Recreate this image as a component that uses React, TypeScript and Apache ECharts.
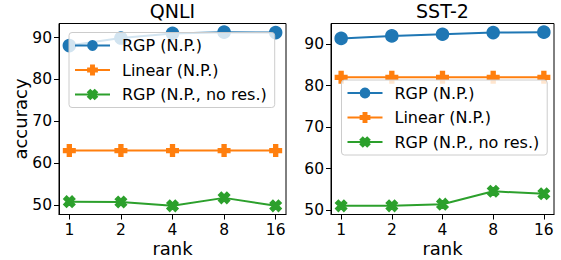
import React, { useEffect, useRef } from "react";
import * as echarts from "echarts";

const ranks = ["1", "2", "4", "8", "16"];
const seriesNames = ["RGP (N.P.)", "Linear (N.P.)", "RGP (N.P., no res.)"];
const panelTitles = ["QNLI", "SST-2"];

const qnliRGP = [88.1, 89.9, 91.0, 91.3, 91.2];
const qnliLinear = [63.0, 63.0, 63.0, 63.0, 63.0];
const qnliNoRes = [50.8, 50.7, 49.8, 51.7, 49.8];

const sstRGP = [91.4, 92.0, 92.4, 92.8, 92.9];
const sstLinear = [82.0, 82.0, 82.0, 82.0, 82.0];
const sstNoRes = [51.0, 51.0, 51.4, 54.5, 53.9];

const yTicks = [50, 60, 70, 80, 90];

const FONT = "DejaVu Sans";
const colors = ["#1f77b4", "#ff7f0e", "#2ca02c"];
const symbols = [
  "circle",
  "path://M-1,-3L1,-3L1,-1L3,-1L3,1L1,1L1,3L-1,3L-1,1L-3,1L-3,-1L-1,-1Z",
  "path://M-1,-2L0,-1L1,-2L2,-1L1,0L2,1L1,2L0,1L-1,2L-2,1L-1,0L-2,-1Z",
];
const symbolSizes = [12, 11.5, 11];

function paddedRange(arrs: number[][]) {
  const all = arrs.flat();
  const lo = Math.min(...all);
  const hi = Math.max(...all);
  const m = (hi - lo) * 0.05;
  return [lo - m, hi + m];
}

export default function App() {
  const ref = useRef<HTMLDivElement>(null);
  useEffect(() => {
    if (!ref.current) return;
    const chart = echarts.init(ref.current, undefined, { renderer: "svg" });
    const panels = [
      { data: [qnliRGP, qnliLinear, qnliNoRes], grid: { left: 59, top: 23.5, width: 227, height: 191 }, legend: { left: 69, top: 32.5 } },
      { data: [sstRGP, sstLinear, sstNoRes], grid: { left: 331, top: 23.5, width: 223, height: 191 }, legend: { left: 341.5, top: 80 } },
    ];
    const grids: any[] = [];
    const xAxes: any[] = [];
    const yAxes: any[] = [];
    const series: any[] = [];
    const legends: any[] = [];
    const titles: any[] = [];
    panels.forEach((p, pi) => {
      grids.push({
        ...p.grid,
        show: true,
        borderColor: "#000",
        borderWidth: 1,
        backgroundColor: "transparent",
        containLabel: false,
        outerBoundsMode: "none",
      });
      const [ymin, ymax] = paddedRange(p.data);
      xAxes.push({
        type: "value",
        gridIndex: pi,
        min: -0.2,
        max: 4.2,
        name: "rank",
        nameLocation: "middle",
        nameGap: 25,
        nameMoveOverlap: false,
        nameTextStyle: { fontFamily: FONT, fontSize: 18, lineHeight: 18, color: "#000" },
        axisLine: { onZero: false, lineStyle: { color: "#000", width: 1 } },
        axisTick: { show: true, length: 5, customValues: [0, 1, 2, 3, 4], lineStyle: { color: "#000" } },
        axisLabel: {
          customValues: [0, 1, 2, 3, 4],
          formatter: (v: number) => ranks[Math.round(v)],
          fontFamily: FONT,
          fontSize: 15.5,
          color: "#000",
          margin: 7,
        },
        splitLine: { show: false },
      });
      yAxes.push({
        type: "value",
        gridIndex: pi,
        min: ymin,
        max: ymax,
        name: pi === 0 ? "accuracy" : "",
        nameLocation: "middle",
        nameGap: 30,
        nameMoveOverlap: false,
        nameRotate: 90,
        nameTextStyle: { fontFamily: FONT, fontSize: 18, color: "#000" },
        axisLine: { show: true, onZero: false, lineStyle: { color: "#000", width: 1 } },
        axisTick: { show: true, length: 5, customValues: yTicks, lineStyle: { color: "#000" } },
        axisLabel: {
          customValues: yTicks,
          formatter: (v: number) => String(Math.round(v)),
          fontFamily: FONT,
          fontSize: 15.5,
          color: "#000",
          margin: 7,
        },
        splitLine: { show: false },
      });
      p.data.forEach((vals, si) => {
        series.push({
          type: "line",
          name: seriesNames[si],
          xAxisIndex: pi,
          yAxisIndex: pi,
          data: vals.map((v, i) => [i, v]),
          symbol: symbols[si],
          symbolSize: symbolSizes[si],
          showSymbol: true,
          color: colors[si],
          lineStyle: { width: 2, color: colors[si] },
          itemStyle: { color: colors[si], borderColor: colors[si], borderWidth: 1.5 },
          z: 2 + si,
        });
      });
      legends.push({
        orient: "vertical",
        left: p.legend.left,
        top: p.legend.top,
        data: seriesNames,
        itemWidth: 35,
        itemHeight: 11,
        itemGap: 4.5,
        padding: [3, 8, 3, 5],
        backgroundColor: "rgba(255,255,255,0.8)",
        borderColor: "#cccccc",
        borderWidth: 1,
        borderRadius: 3,
        selectedMode: false,
        textStyle: { fontFamily: FONT, fontSize: 16, color: "#000", lineHeight: 20, padding: [0, 0, 0, 7] },
        z: 10,
      });
      titles.push({
        text: panelTitles[pi],
        left: p.grid.left + p.grid.width / 2,
        top: 1.5,
        textAlign: "center",
        padding: 0,
        textStyle: { fontFamily: FONT, fontSize: 19, fontWeight: "normal", color: "#000" },
      });
    });
    chart.setOption({
      animation: false,
      backgroundColor: "#fff",
      title: titles,
      grid: grids,
      xAxis: xAxes,
      yAxis: yAxes,
      legend: legends,
      series,
    });
    return () => chart.dispose();
  }, []);
  return <div ref={ref} style={{ position: "fixed", left: 0, top: 0, width: 561, height: 260 }} />;
}
